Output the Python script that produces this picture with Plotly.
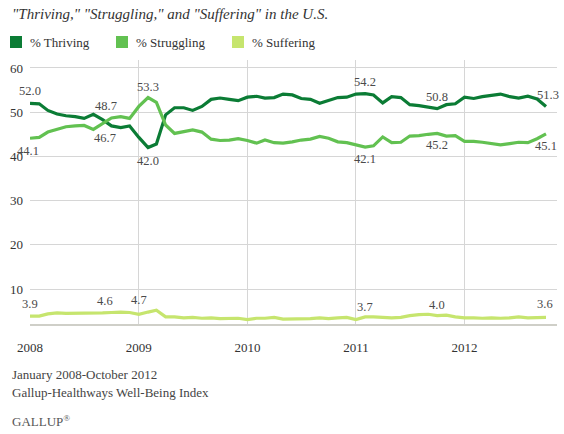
import pandas as pd
import plotly.graph_objects as go

months = pd.date_range("2008-01-01", periods=58, freq="MS")

thriving = [52.0, 51.9, 50.4, 49.6, 49.2, 49.0, 48.6, 49.5, 48.3, 46.9, 46.5, 46.9,
            44.3, 42.0, 42.8, 49.4, 51.0, 51.0, 50.4, 51.3, 52.9, 53.2, 52.9, 52.6,
            53.4, 53.6, 53.2, 53.3, 54.1, 53.9, 53.1, 52.9, 52.0, 52.6, 53.3, 53.4,
            54.1, 54.2, 53.9, 52.1, 53.5, 53.3, 51.7, 51.5, 51.1, 50.8, 51.7, 51.9,
            53.4, 53.1, 53.5, 53.8, 54.1, 53.5, 53.2, 53.6, 53.0, 51.3]
struggling = [44.1, 44.3, 45.5, 46.1, 46.7, 46.9, 47.0, 46.1, 47.5, 48.7, 49.0, 48.6,
              51.3, 53.3, 52.2, 47.1, 45.2, 45.6, 46.0, 45.5, 43.9, 43.6, 43.7, 44.0,
              43.6, 43.0, 43.7, 43.1, 43.0, 43.3, 43.7, 43.9, 44.5, 44.1, 43.3, 43.1,
              42.6, 42.1, 42.4, 44.4, 43.1, 43.2, 44.6, 44.7, 45.0, 45.2, 44.6, 44.7,
              43.4, 43.4, 43.2, 42.9, 42.6, 42.9, 43.2, 43.1, 44.0, 45.1]
suffering = [3.9, 3.9, 4.4, 4.6, 4.5, 4.5, 4.6, 4.5, 4.6, 4.7, 4.8, 4.7,
             4.3, 4.8, 5.2, 3.7, 3.7, 3.5, 3.6, 3.4, 3.5, 3.3, 3.4, 3.4,
             3.1, 3.4, 3.4, 3.6, 3.2, 3.2, 3.2, 3.3, 3.5, 3.3, 3.5, 3.6,
             3.1, 3.7, 3.7, 3.6, 3.5, 3.6, 4.0, 4.2, 4.3, 4.0, 4.1, 3.7,
             3.5, 3.5, 3.4, 3.5, 3.4, 3.5, 3.7, 3.5, 3.5, 3.6]

series_names = ["% Thriving", "% Struggling", "% Suffering"]
colors = ["#0B7C35", "#62C151", "#C6E56E"]
year_ticks = ["2008-01-01", "2009-01-01", "2010-01-01", "2011-01-01", "2012-01-01"]
year_labels = ["2008", "2009", "2010", "2011", "2012"]
y_ticks = [10, 20, 30, 40, 50, 60]

# (series index, month index, label text, vertical shift, horizontal shift)
point_labels = [
    (0, 0, "52.0", 12, 0), (1, 0, "44.1", -13, -2),
    (1, 9, "48.7", 12, -5), (0, 9, "46.7", -12, -6),
    (1, 13, "53.3", 11, 0), (0, 13, "42.0", -13, 0),
    (0, 37, "54.2", 12, 0), (1, 37, "42.1", -12, 0),
    (0, 45, "50.8", 12, 0), (1, 45, "45.2", -12, 0),
    (0, 57, "51.3", 11, 2), (1, 57, "45.1", -12, 0),
    (2, 0, "3.9", 12, 0), (2, 8, "4.6", 12, 2), (2, 12, "4.7", 14, 0),
    (2, 37, "3.7", 10, 0), (2, 45, "4.0", 11, 0), (2, 57, "3.6", 13, -1),
]

SERIF = "Liberation Serif, DejaVu Serif, serif"
all_series = [thriving, struggling, suffering]

fig = go.Figure()
for name, vals, col in zip(series_names, all_series, colors):
    fig.add_trace(go.Scatter(x=months, y=vals, mode="lines", name=name,
                             line=dict(color=col, width=3.2), showlegend=False,
                             hoverinfo="skip"))

for s, i, txt, dy, dx in point_labels:
    fig.add_annotation(x=months[i], y=all_series[s][i], text=txt, showarrow=False,
                       yshift=dy, xshift=dx, xanchor="center", yanchor="middle",
                       font=dict(family=SERIF, size=12.5, color="#4a4a4a"))

# Plot area: left 30, right 557, top 60, bottom 324 (pixels)
L, R, T, B = 30, 557, 60, 324
W, H = R - L, B - T
def px(x):
    return (x - L) / W
def py(y):
    return (B - y) / H

# Legend (squares + text)
leg_x = [10, 116, 232]
for name, col, lx in zip(series_names, colors, leg_x):
    fig.add_shape(type="rect", xref="paper", yref="paper",
                  x0=px(lx), x1=px(lx + 12), y0=py(48), y1=py(36),
                  fillcolor=col, line=dict(width=0))
    fig.add_annotation(xref="paper", yref="paper", x=px(lx + 18), y=py(42),
                       text=name, showarrow=False, xanchor="left", yanchor="middle",
                       font=dict(family=SERIF, size=13, color="#333"))

# Title
fig.add_annotation(xref="paper", yref="paper", x=px(10), y=py(14),
                   text='"Thriving," "Struggling," and "Suffering" in the U.S.',
                   showarrow=False, xanchor="left", yanchor="middle",
                   font=dict(family=SERIF, size=15, color="#333", style="italic"))

# Footer
fig.add_annotation(xref="paper", yref="paper", x=px(10), y=py(374),
                   text="January 2008-October 2012", showarrow=False,
                   xanchor="left", yanchor="middle",
                   font=dict(family=SERIF, size=13, color="#444"))
fig.add_annotation(xref="paper", yref="paper", x=px(10), y=py(392),
                   text="Gallup-Healthways Well-Being Index", showarrow=False,
                   xanchor="left", yanchor="middle",
                   font=dict(family=SERIF, size=13, color="#444"))
fig.add_annotation(xref="paper", yref="paper", x=px(10), y=py(421),
                   text="GALLUP<sup>®</sup>", showarrow=False,
                   xanchor="left", yanchor="middle",
                   font=dict(family=SERIF, size=13, color="#555"))

fig.update_layout(
    width=564, height=434,
    autosize=False,
    template="none",
    margin=dict(l=L, r=564 - R, t=T, b=434 - B, pad=0),
    paper_bgcolor="white", plot_bgcolor="white",
    font=dict(family=SERIF, color="#333"),
    xaxis=dict(range=["2008-01-01", "2012-11-07"], tickvals=year_ticks,
               ticktext=year_labels, showgrid=True, gridcolor="#d6d6d6", gridwidth=1,
               showline=True, linecolor="#cfcfc8", linewidth=2, zeroline=False,
               ticks="", ticklabelstandoff=10, automargin=False,
               tickfont=dict(family=SERIF, size=13, color="#333")),
    yaxis=dict(range=[2.1, 61.8], tickvals=y_ticks, showgrid=True,
               gridcolor="#d6d6d6", gridwidth=1, zeroline=False, showline=False,
               ticks="", ticklabelstandoff=6, automargin=False,
               tickfont=dict(family=SERIF, size=13, color="#333")),
)

fig.write_html("out.html",
               config={"displayModeBar": False, "staticPlot": True},
               post_script="document.body.style.margin='0';document.body.style.padding='0';")
